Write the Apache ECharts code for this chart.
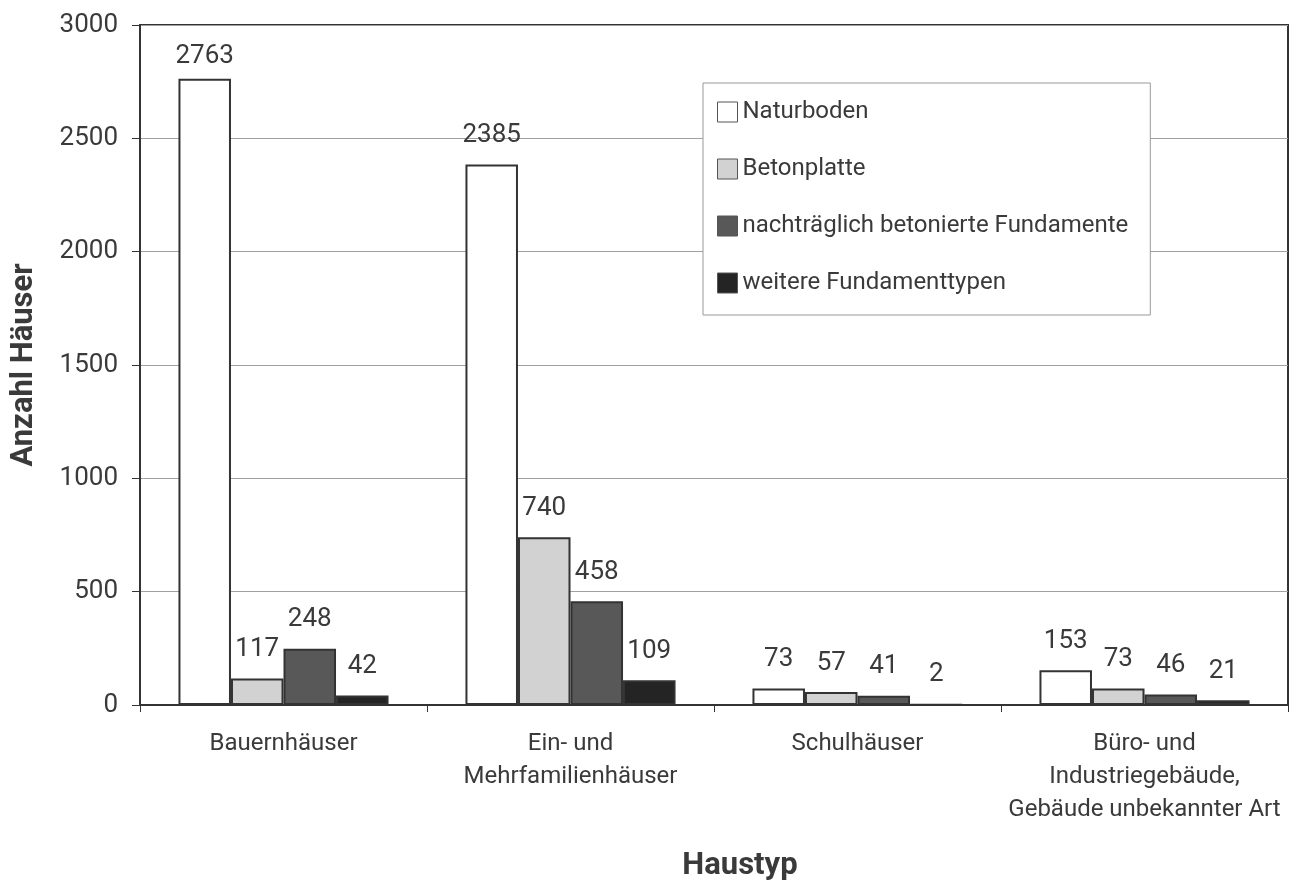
<!DOCTYPE html>
<html>
<head>
<meta charset="utf-8">
<script src="https://cdn.jsdelivr.net/npm/echarts@6/dist/echarts.min.js"></script>
<style>
html,body{margin:0;padding:0;background:#fff;}
#chart{width:1292px;height:887px;}
</style>
</head>
<body>
<div id="chart"></div>
<script>
const categories = ['Bauernhäuser', 'Ein- und\nMehrfamilienhäuser', 'Schulhäuser', 'Büro- und\nIndustriegebäude,\nGebäude unbekannter Art'];
const seriesNames = ['Naturboden', 'Betonplatte', 'nachträglich betonierte Fundamente', 'weitere Fundamenttypen'];
const naturboden = [2763, 2385, 73, 153];
const betonplatte = [117, 740, 57, 73];
const nachtraeglich = [248, 458, 41, 46];
const weitere = [42, 109, 2, 21];
const yTicks = [0, 500, 1000, 1500, 2000, 2500, 3000];

const FONT = 'Roboto';
const TXT = '#3a3a3a';
const colors = ['#ffffff', '#d2d2d2', '#585858', '#242424'];
const values = [naturboden, betonplatte, nachtraeglich, weitere];

const chart = echarts.init(document.getElementById('chart'), null, {renderer: 'canvas'});
chart.setOption({
  animation: false,
  backgroundColor: '#fff',
  textStyle: {fontFamily: FONT, color: TXT},
  grid: {left: 140, top: 25, right: 4, bottom: 181, show: true, borderColor: '#333', borderWidth: 2, backgroundColor: 'transparent'},
  legend: {
    orient: 'vertical',
    left: 703, top: 83,
    padding: [17, 22, 20, 14],
    itemGap: 33,
    itemWidth: 20, itemHeight: 20,
    itemStyle: {borderWidth: 1, borderColor: '#555'},
    backgroundColor: '#fff',
    borderColor: '#999',
    borderWidth: 1,
    icon: 'rect',
    textStyle: {fontFamily: FONT, fontSize: 24, color: TXT},
    data: seriesNames
  },
  xAxis: {
    type: 'category',
    data: categories,
    name: 'Haustyp',
    nameLocation: 'middle',
    nameGap: 146,
    nameTextStyle: {fontFamily: FONT, fontWeight: 'bold', fontSize: 31, color: TXT, padding: [0, 0, 0, 52]},
    axisLine: {lineStyle: {color: '#333', width: 2}},
    axisTick: {show: true, length: 7, lineStyle: {color: '#333'}},
    axisLabel: {fontFamily: FONT, fontSize: 24, color: TXT, lineHeight: 33, margin: 22, interval: 0}
  },
  yAxis: {
    type: 'value',
    min: 0, max: 3000, interval: 500,
    name: 'Anzahl Häuser',
    nameLocation: 'middle',
    nameGap: 100,
    nameTextStyle: {fontFamily: FONT, fontWeight: 'bold', fontSize: 31, color: TXT},
    axisLine: {show: true, lineStyle: {color: '#333', width: 2}},
    axisTick: {show: true, length: 8, lineStyle: {color: '#333'}},
    splitLine: {show: true, lineStyle: {color: '#a0a0a0', width: 1}},
    axisLabel: {fontFamily: FONT, fontSize: 26, color: TXT, margin: 22,
      formatter: v => yTicks.includes(v) ? String(v) : ''}
  },
  series: seriesNames.map((n, i) => ({
    name: n,
    type: 'bar',
    data: values[i].map(v => v > 2600 ? {value: v, label: {distance: 9}} : v),
    barGap: '0%',
    barCategoryGap: '26.8%',
    itemStyle: {color: colors[i], borderColor: '#333', borderWidth: 2},
    label: {show: true, position: 'top', distance: 16, fontFamily: FONT, fontSize: 26, color: TXT}
  }))
});
</script>
</body>
</html>
